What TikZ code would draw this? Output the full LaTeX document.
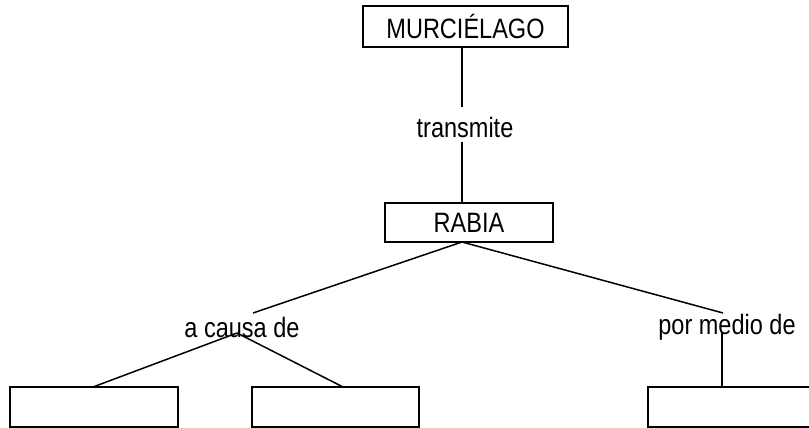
\documentclass[tikz,border=0pt]{standalone}
\usepackage{fontspec}
\setmainfont{Liberation Sans}[FakeStretch=0.84]
\begin{document}
\begin{tikzpicture}[x=1pt,y=1pt,
  box/.style={draw,line width=1.5pt,inner sep=0pt,minimum height=40pt},
  lbl/.style={inner sep=0pt,font=\fontsize{28}{32}\selectfont},
  conn/.style={line width=1.5pt}]
\useasboundingbox (0,0) rectangle (809,428);
\node[box,minimum width=205pt,minimum height=41pt,lbl,draw] (murc) at (465.5,401.5) {MURCIÉLAGO};
\node[lbl] (trans) at (465,301) {transmite};
\node[box,minimum width=168pt,minimum height=39pt,lbl,draw] (rabia) at (469,205.5) {RABIA};
\node[lbl] (causa) at (242,101) {a causa de};
\node[lbl] (medio) at (727,101) {por medio de};
\node[box,minimum width=168pt] (b1) at (94,21) {};
\node[box,minimum width=167pt] (b2) at (335.5,21) {};
\node[box,minimum width=170pt] (b3) at (733,21) {};
% anchor points
\coordinate (mt) at (462,381);
\coordinate (tt) at (462,321);
\coordinate (tb) at (462,286);
\coordinate (rt) at (462,225);
\coordinate (rb) at (462,186);
\coordinate (ct) at (253,115);
\coordinate (cb) at (237,95);
\coordinate (pt) at (723,115);
\coordinate (pb) at (722,95);
\coordinate (b1t) at (93,41);
\coordinate (b2t) at (343,41);
\coordinate (b3t) at (722,41);
\draw[conn] (mt) -- (tt);
\draw[conn] (tb) -- (rt);
\draw[conn] (rb) -- (ct);
\draw[conn] (rb) -- (pt);
\draw[conn] (cb) -- (b1t);
\draw[conn] (cb) -- (b2t);
\draw[conn] (pb) -- (b3t);
\end{tikzpicture}
\end{document}
